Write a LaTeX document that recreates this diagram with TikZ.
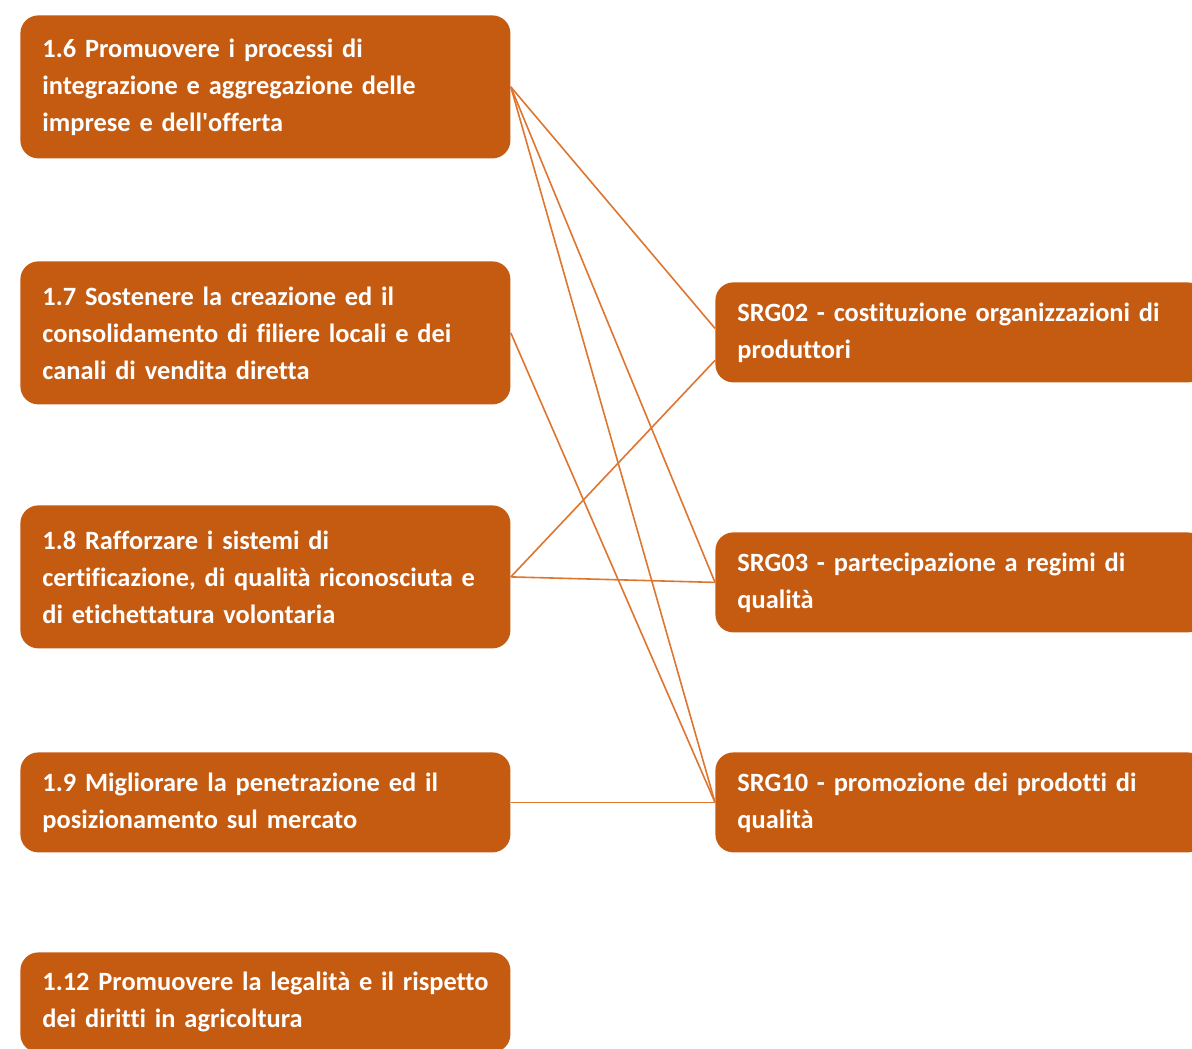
\documentclass[tikz,border=0pt]{standalone}
\usepackage{fontspec}
\setmainfont{Carlito}[Ligatures={TeX,NoCommon}]
\definecolor{boxorange}{RGB}{197,90,17}
\definecolor{lineorange}{RGB}{222,118,48}
\tikzset{
  obj/.style={fill=boxorange, rounded corners=9pt, text=white, anchor=north west,
    font=\bfseries\fontsize{13.2}{18.5}\selectfont, align=left,
    inner xsep=11pt, text width=223pt},
  tall/.style={obj, minimum height=71.5pt},
  short/.style={obj, minimum height=50pt},
  link/.style={draw=lineorange, line width=0.8pt},
}
\begin{document}
\begin{tikzpicture}[x=0.5pt,y=-0.5pt]
  \useasboundingbox[fill=white] (0,0) rectangle (1192,1048);
  % obiettivi
  \node[tall] (o16) at (20,15) {1.6 Promuovere i processi di\\integrazione e aggregazione delle\\imprese e dell\textquotesingle offerta};
  \node[tall] (o17) at (20,261) {1.7 Sostenere la creazione ed il\\consolidamento di filiere locali e dei\\canali di vendita diretta};
  \node[tall] (o18) at (20,505) {1.8 Rafforzare i sistemi di\\certificazione, di qualità riconosciuta e\\di etichettatura volontaria};
  \node[short] (o19) at (20,752) {1.9 Migliorare la penetrazione ed il\\posizionamento sul mercato};
  \node[short] (o112) at (20,952) {\mbox{1.12 Promuovere la legalità e il rispetto}\\dei diritti in agricoltura};
  % interventi
  \node[short] (s02) at (715,282) {SRG02 - costituzione organizzazioni di\\produttori};
  \node[short] (s03) at (715,532) {SRG03 - partecipazione a regimi di\\qualità};
  \node[short] (s10) at (715,752) {SRG10 - promozione dei prodotti di\\qualità};

  \draw[link] (o16.east) -- ([yshift=2pt]s02.west);
  \draw[link] (o16.east) -- (s03.west);
  \draw[link] (o16.east) -- (s10.west);
  \draw[link] (o17.east) -- (s10.west);
  \draw[link] (o18.east) -- ([yshift=-14pt]s02.west);
  \draw[link] (o18.east) -- (s03.west);
  \draw[link] (o19.east) -- (s10.west);
\end{tikzpicture}
\end{document}
